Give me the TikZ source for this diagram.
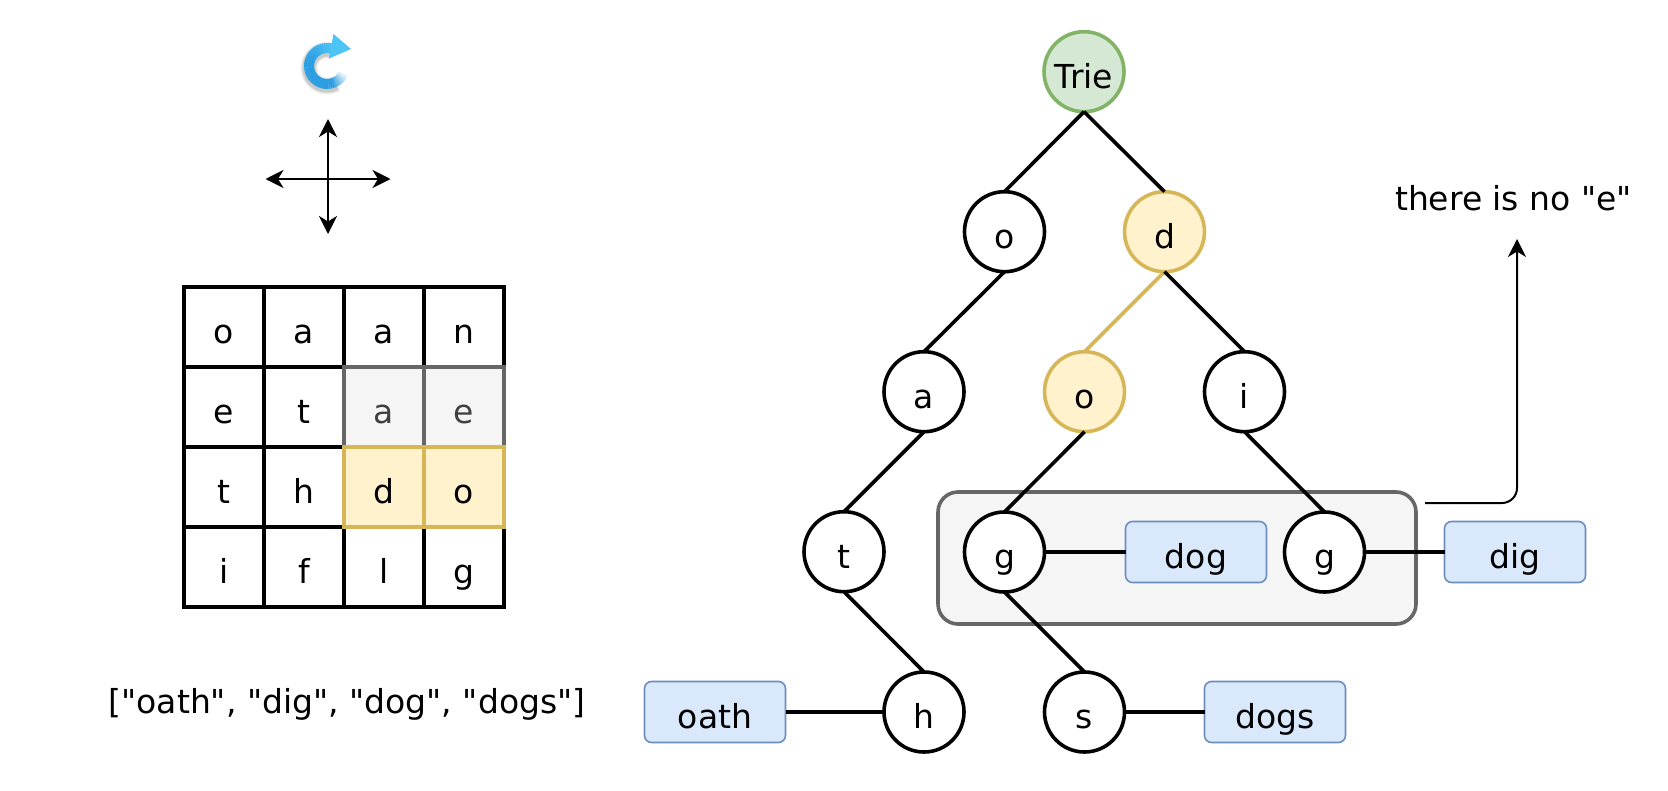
\documentclass[tikz,border=0pt]{standalone}
\usepackage{fontspec}
\setmainfont{DejaVu Sans}[Ligatures=TeXOff]
\usetikzlibrary{arrows.meta}
\definecolor{yfill}{HTML}{FFF2CC}
\definecolor{yline}{HTML}{D6B656}
\definecolor{gfill}{HTML}{F5F5F5}
\definecolor{gline}{HTML}{666666}
\definecolor{bfill}{HTML}{DAE8FC}
\definecolor{bline}{HTML}{6C8EBF}
\definecolor{tfill}{HTML}{D5E8D4}
\definecolor{tline}{HTML}{82B366}
\definecolor{iconblue}{HTML}{2C9FE2}
\definecolor{iconlight}{HTML}{4CC4F5}
\tikzset{
  txt/.style={font=\fontsize{33}{38}\selectfont, text height=33pt, text depth=0pt, inner sep=0pt, outer sep=0pt},
  cellbox/.style={txt, draw=black, line width=3.6pt, minimum size=80pt, rectangle},
  cellgray/.style={cellbox, draw=gline, fill=gfill, text=black!75},
  cellyellow/.style={cellbox, draw=yline, fill=yfill},
  trienode/.style={txt, circle, draw=black, fill=white, line width=3.6pt, minimum size=80pt},
  rootnode/.style={trienode, draw=tline, fill=tfill},
  hitnode/.style={trienode, draw=yline, fill=yfill},
  wordbox/.style={txt, rectangle, rounded corners=7pt, draw=bline, fill=bfill, line width=1.6pt, minimum width=141pt, minimum height=61pt},
  edge/.style={draw=black, line width=3.6pt},
  plainlabel/.style={font=\fontsize{33}{38}\selectfont, inner sep=0pt, outer sep=0pt, anchor=base},
  tip/.style={-{Stealth[length=18pt,width=18pt,inset=5.5pt]}},
  dbltip/.style={{Stealth[length=18pt,width=18pt,inset=5.5pt]}-{Stealth[length=18pt,width=18pt,inset=5.5pt]}}
}
\begin{document}
\begin{tikzpicture}[x=1pt,y=-1pt]
\useasboundingbox (0,0) rectangle (1668,790);
% rotation icon
\def\icx{327}\def\icy{66}\def\icr{18}
\foreach \w/\o in {17/.05,15/.07,13/.10}{
  \draw[line width=\w pt, black, opacity=\o] ({\icx+\icr*cos(-60)},{\icy+2-\icr*sin(-60)}) arc[start angle=60, end angle=285, radius=\icr];
}
\foreach \a in {-25,-30,...,-285}{
  \pgfmathsetmacro{\p}{min(100,max(5,(-\a-20)*2))}
  \pgfmathsetmacro{\q}{max(0,min(100,(-\a-200)*1.2))}
  \colorlet{segc}{iconlight!\q!iconblue}
  \draw[line width=10pt, segc!\p!white] ({\icx+\icr*cos(\a)},{\icy-\icr*sin(\a)}) -- ({\icx+\icr*cos(\a-6)},{\icy-\icr*sin(\a-6)});
}
\fill[iconlight] (333.5,34) -- (351,49) -- (329,58.5) -- cycle;
% direction cross
\coordinate (crossT) at (328,119);
\coordinate (crossB) at (328,234);
\coordinate (crossL) at (265.5,179);
\coordinate (crossR) at (390.5,179);
\draw[dbltip, line width=2.2pt] (crossT) -- (crossB);
\draw[dbltip, line width=2.2pt] (crossL) -- (crossR);
% board
\node[cellbox] (c11) at (224,326.7) {o};
\node[cellbox] (c12) at (304,326.7) {a};
\node[cellbox] (c13) at (384,326.7) {a};
\node[cellbox] (c14) at (464,326.7) {n};
\node[cellbox] (c21) at (224,406.7) {e};
\node[cellbox] (c22) at (304,406.7) {t};
\node[cellbox] (c31) at (224,486.7) {t};
\node[cellbox] (c32) at (304,486.7) {h};
\node[cellbox] (c41) at (224,566.7) {i};
\node[cellbox] (c42) at (304,566.7) {f};
\node[cellbox] (c43) at (384,566.7) {l};
\node[cellbox] (c44) at (464,566.7) {g};
\node[cellgray] (c23) at (384,406.7) {a};
\node[cellgray] (c24) at (464,406.7) {e};
\node[cellyellow] (c33) at (384,486.7) {d};
\node[cellyellow] (c34) at (464,486.7) {o};
% word list
\node[plainlabel] (words) at (347,713) {["oath", "dig", "dog", "dogs"]};
% group behind the two g nodes
\node[rectangle, rounded corners=20pt, draw=gline, fill=gfill, line width=3.6pt, minimum width=478pt, minimum height=132pt, inner sep=0pt, outer sep=0pt] (group) at (1177,558) {};
% trie nodes
\node[rootnode] (root) at (1084,71.7) {Trie};
\node[trienode] (o1) at (1004.5,231.7) {o};
\node[hitnode] (d1) at (1164.5,231.7) {d};
\node[trienode] (a1) at (924,391.7) {a};
\node[hitnode] (o2) at (1084.5,391.7) {o};
\node[trienode] (i1) at (1244.5,391.7) {i};
\node[trienode] (t1) at (844,551.7) {t};
\node[trienode] (g1) at (1004.5,552) {g};
\node[trienode] (g2) at (1324.5,552) {g};
\node[trienode] (h1) at (924,712) {h};
\node[trienode] (s1) at (1084.5,712) {s};
\node[wordbox] (dog) at (1196,552) {dog};
\node[wordbox] (dig) at (1515,552) {dig};
\node[wordbox] (dogs) at (1275,712) {dogs};
\node[wordbox] (oath) at (715,712) {oath};
% edges
\draw[edge] (root.south) -- (o1.north);
\draw[edge] (root.south) -- (d1.north);
\draw[edge] (o1.south) -- (a1.north);
\draw[edge, draw=yline] (d1.south) -- (o2.north);
\draw[edge] (d1.south) -- (i1.north);
\draw[edge] (a1.south) -- (t1.north);
\draw[edge] (t1.south) -- (h1.north);
\draw[edge] (o2.south) -- (g1.north);
\draw[edge] (i1.south) -- (g2.north);
\draw[edge] (g1.south) -- (s1.north);
\draw[edge] (g1.east) -- (dog.west);
\draw[edge] (g2.east) -- (dig.west);
\draw[edge] (s1.east) -- (dogs.west);
\draw[edge] (h1.west) -- (oath.east);
% no-e note
\node[plainlabel] (note) at (1513.5,210) {there is no "e"};
\coordinate (noteFrom) at (1425,503);
\coordinate (noteTo) at (1517,239);
\draw[tip, line width=2pt, rounded corners=15pt] (noteFrom) -- (1517,503) -- (noteTo);
\end{tikzpicture}
\end{document}
